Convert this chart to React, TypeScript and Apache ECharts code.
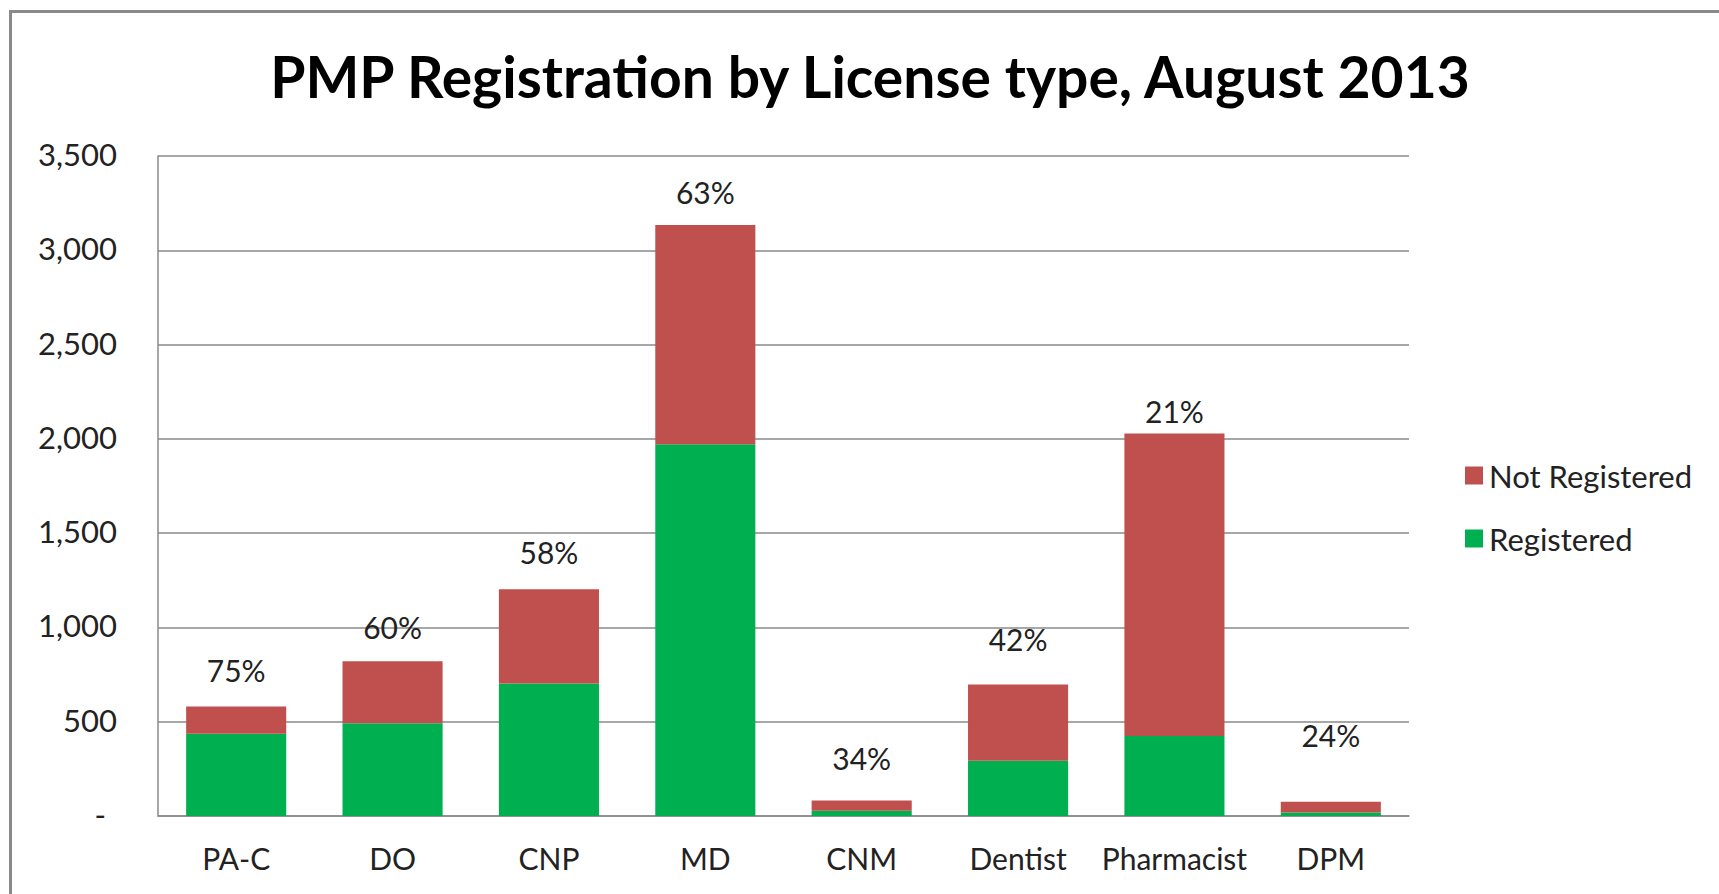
import React, { useEffect, useRef } from "react";
import * as echarts from "echarts";

const categories = ["PA-C", "DO", "CNP", "MD", "CNM", "Dentist", "Pharmacist", "DPM"];
const registered = [436, 492, 703, 1971, 28, 293, 424, 18];
const notRegistered = [145, 328, 500, 1163, 54, 405, 1605, 58];
const percentLabels = ["75%", "60%", "58%", "63%", "34%", "42%", "21%", "24%"];
const titleText = "PMP Registration by License type, August 2013";
const yMin = 0;
const yMax = 3500;
const yInterval = 500;

// label distances above each stacked bar (style only)
const labelDistances = [21, 19, 22, 18, 28, 30, 7, 52];

const FONT = "Lato, 'Noto Sans', sans-serif";

export default function App() {
  const ref = useRef<HTMLDivElement>(null);
  useEffect(() => {
    if (!ref.current) return;
    const chart = echarts.init(ref.current, undefined, { renderer: "svg" });
    chart.setOption({
      animation: false,
      backgroundColor: "#ffffff",
      textStyle: { fontFamily: FONT },
      grid: { left: 158, right: 310, top: 156, bottom: 78, containLabel: false },
      legend: {
        orient: "vertical",
        left: 1460,
        top: 455,
        data: ["Not Registered", "Registered"],
        itemWidth: 18,
        itemHeight: 18,
        itemGap: 32,
        icon: "rect",
        textStyle: { fontFamily: FONT, fontSize: 31, color: "#222222", padding: [0, 0, 0, 1] },
      },
      xAxis: {
        type: "category",
        data: categories,
        axisLine: { show: true, lineStyle: { color: "#8a8a8a", width: 1.5 } },
        axisTick: { show: false },
        axisLabel: { color: "#222222", fontFamily: FONT, fontSize: 30, margin: 27, interval: 0 },
      },
      yAxis: {
        type: "value",
        min: yMin,
        max: yMax,
        interval: yInterval,
        axisLine: { show: true, lineStyle: { color: "#8a8a8a", width: 1.5 } },
        axisTick: { show: false },
        splitLine: { show: true, lineStyle: { color: "#8a8a8a", width: 1.5 } },
        axisLabel: {
          color: "#222222",
          fontFamily: FONT,
          fontSize: 31,
          margin: 41,
          padding: [0, 0, 4, 0],
          formatter: (v: number) => (v === 0 ? "{d|-}" : v.toLocaleString("en-US")),
          rich: {
            d: { fontFamily: FONT, fontSize: 31, color: "#222222", padding: [0, 11, 0, 0] },
          },
        },
      },
      series: [
        {
          name: "Registered",
          type: "bar",
          stack: "total",
          barWidth: "64%",
          data: registered,
          itemStyle: { color: "#00B050" },
        },
        {
          name: "Not Registered",
          type: "bar",
          stack: "total",
          barWidth: "64%",
          itemStyle: { color: "#C0504D" },
          data: notRegistered.map((v, i) => ({
            value: v,
            label: {
              show: true,
              position: "top",
              distance: labelDistances[i],
              formatter: percentLabels[i],
              fontFamily: FONT,
              fontSize: 30,
              color: "#222222",
            },
          })),
        },
      ],
      graphic: [
        {
          type: "rect",
          shape: { x: 10.5, y: 11.5, width: 1800, height: 1000 },
          style: { fill: "none", stroke: "#8a8a8a", lineWidth: 3 },
          silent: true,
        },
        {
          type: "text",
          x: 870,
          y: 75.5,
          style: {
            text: titleText,
            fontFamily: FONT,
            fontWeight: "bold",
            fontSize: 57,
            fill: "#000000",
            textAlign: "center",
            textVerticalAlign: "middle",
          },
        },
      ],
    });
    return () => chart.dispose();
  }, []);
  return (
    <div
      ref={ref}
      style={{ position: "absolute", left: 0, top: 0, width: 1719, height: 894, background: "#fff" }}
    />
  );
}
